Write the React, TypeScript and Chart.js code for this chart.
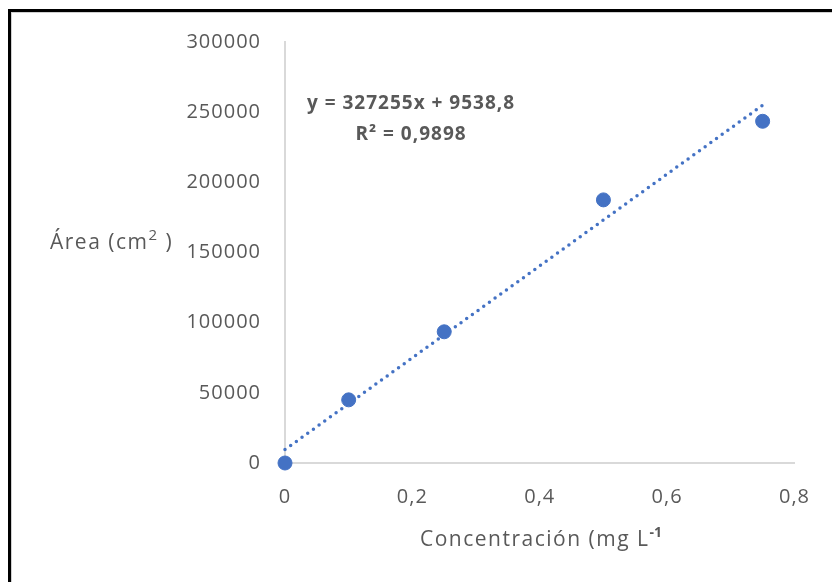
import React, { useEffect, useRef } from "react";
import { Chart, registerables } from "chart.js";

Chart.register(...registerables);

const concentrations = [0, 0.1, 0.25, 0.5, 0.75];
const areas = [0, 45000, 93500, 187500, 243500];
const trendSlope = 327255;
const trendIntercept = 9538.8;
const trendRange = [0, 0.75];
const xMin = 0;
const xMax = 0.8;
const xStep = 0.2;
const yMin = 0;
const yMax = 300000;
const yStep = 50000;
const equationLines = ["y = 327255x + 9538,8", "R² = 0,9898"];
const xTitleMain = "Concentración (mg L";
const xTitleSup = "-1";
const yTitleMain = "Área (cm";
const yTitleSup = "2";
const yTitleEnd = " )";

const BLUE = "#4472C4";
const TEXT = "#595959";
const AXIS = "#d9d9d9";
const FONT = "'Open Sans', 'Noto Sans', sans-serif";

const spacingPlugin = {
  id: "spacing",
  beforeUpdate(chart: any) {
    (chart.ctx as any).letterSpacing = "1px";
  },
  beforeDraw(chart: any) {
    (chart.ctx as any).letterSpacing = "1px";
  },
};

const textPlugin = {
  id: "customText",
  afterDraw(chart: any) {
    const ctx = chart.ctx as any;
    const area = chart.chartArea;
    ctx.save();
    ctx.fillStyle = TEXT;
    // equation
    ctx.letterSpacing = "1px";
    ctx.font = `bold 19px ${FONT}`;
    ctx.textAlign = "center";
    ctx.textBaseline = "middle";
    const ex = area.left + 126;
    ctx.fillText(equationLines[0], ex, area.top + 62);
    ctx.fillText(equationLines[1], ex, area.top + 93);

    // y title
    ctx.textAlign = "left";
    ctx.letterSpacing = "1.5px";
    ctx.font = `21px ${FONT}`;
    let x = 50;
    const yy = 243;
    ctx.fillText(yTitleMain, x, yy);
    x += ctx.measureText(yTitleMain).width;
    ctx.font = `15px ${FONT}`;
    ctx.fillText(yTitleSup, x, yy - 7);
    x += ctx.measureText(yTitleSup).width;
    ctx.font = `21px ${FONT}`;
    ctx.fillText(yTitleEnd, x, yy);

    // x title
    ctx.font = `21px ${FONT}`;
    let tx = 420;
    const ty = 540;
    ctx.fillText(xTitleMain, tx, ty);
    tx += ctx.measureText(xTitleMain).width;
    ctx.letterSpacing = "0px";
    ctx.font = `bold 14px ${FONT}`;
    ctx.fillText(xTitleSup, tx, ty - 7);
    ctx.restore();
  },
};

export default function App() {
  const ref = useRef<HTMLCanvasElement | null>(null);

  useEffect(() => {
    if (!ref.current) return;
    const points = concentrations.map((c, i) => ({ x: c, y: areas[i] }));
    const trend = trendRange.map((c) => ({ x: c, y: trendSlope * c + trendIntercept }));
    const chart = new Chart(ref.current, {
      type: "scatter",
      data: {
        datasets: [
          {
            label: "Área",
            data: points,
            backgroundColor: BLUE,
            borderColor: BLUE,
            pointRadius: 7,
            pointHoverRadius: 7,
            clip: false,
          } as any,
          {
            type: "line",
            label: "Tendencia",
            data: trend,
            borderColor: BLUE,
            borderWidth: 3.5,
            borderDash: [0, 7],
            borderCapStyle: "round",
            pointRadius: 0,
            fill: false,
            clip: false,
          } as any,
        ],
      },
      options: {
        responsive: false,
        animation: false,
        layout: { padding: { left: 0, top: 42, right: 36, bottom: 0 } },
        plugins: { legend: { display: false }, tooltip: { enabled: false } },
        scales: {
          x: {
            type: "linear",
            min: xMin,
            max: xMax,
            ticks: {
              stepSize: xStep,
              color: TEXT,
              font: { family: FONT, size: 20 },
              padding: 22,
              callback: (v: any) => String(Math.round(Number(v) * 10) / 10).replace(".", ","),
            },
            grid: { display: false, drawTicks: false },
            border: { display: true, color: AXIS, width: 2 },
            afterFit: (s: any) => {
              s.height = 119;
            },
          },
          y: {
            type: "linear",
            min: yMin,
            max: yMax,
            ticks: {
              stepSize: yStep,
              color: TEXT,
              font: { family: FONT, size: 20 },
              padding: 24,
              callback: (v: any) => String(v),
            },
            grid: { display: false, drawTicks: false },
            border: { display: true, color: AXIS, width: 2 },
            afterFit: (s: any) => {
              s.width = 285;
            },
          },
        },
      },
      plugins: [spacingPlugin, textPlugin],
    });
    return () => chart.destroy();
  }, []);

  return (
    <>
      <canvas
        ref={ref}
        width={832}
        height={582}
        style={{ position: "fixed", left: 0, top: 0, width: 832, height: 582, background: "#fff" }}
      />
      <div
        style={{
          position: "fixed",
          left: 8,
          top: 9,
          width: 840,
          height: 600,
          border: "3px solid #000",
          boxShadow: "inset 1px 1px 0 #d0d0d0",
          pointerEvents: "none",
        }}
      />
    </>
  );
}
